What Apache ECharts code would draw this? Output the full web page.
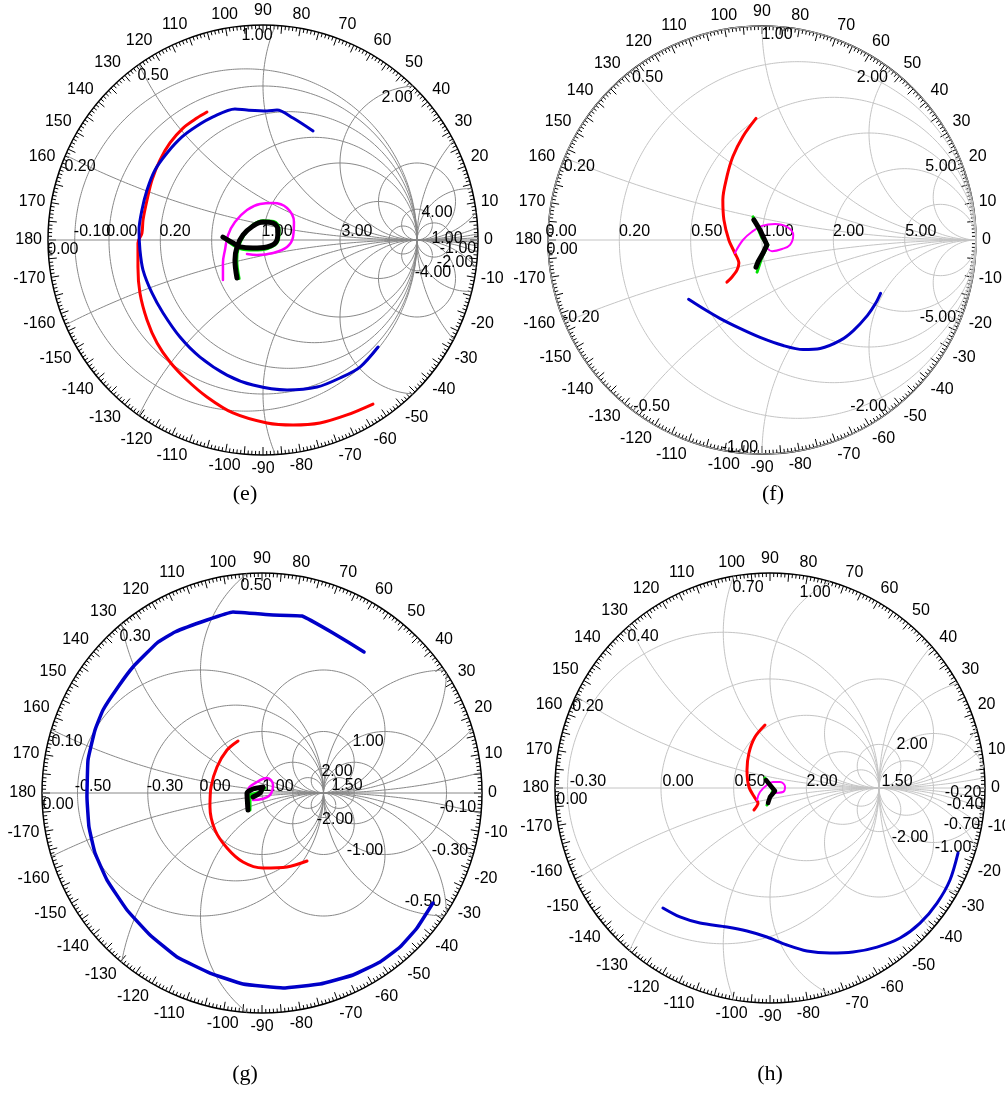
<!DOCTYPE html>
<html>
<head>
<meta charset="utf-8">
<title>Smith charts (e)-(h)</title>
<script src="https://cdn.jsdelivr.net/npm/echarts@6/dist/echarts.min.js"></script>
<style>
  html, body { margin: 0; padding: 0; background: #fff; }
  #chart { width: 1005px; height: 1099px; }
</style>
</head>
<body>
<div id="chart"></div>
<script>
// Smith chart traces, values are reflection coefficient [re, im]

// (e)
const eRed = [[-0.364,0.831],[-0.429,0.792],[-0.519,0.727],[-0.604,0.630],[-0.669,0.519],[-0.721,0.390],[-0.753,0.260],[-0.779,0.130],[-0.786,0.045],[-0.812,-0.019],[-0.812,-0.175],[-0.799,-0.344],[-0.753,-0.519],[-0.688,-0.669],[-0.604,-0.792],[-0.494,-0.909],[-0.364,-1.019],[-0.195,-1.123],[0.026,-1.188],[0.195,-1.201],[0.370,-1.188],[0.545,-1.136],[0.714,-1.065]];
const eBlue = [[0.325,0.708],[0.195,0.792],[0.091,0.844],[0.026,0.838],[-0.104,0.844],[-0.182,0.851],[-0.325,0.799],[-0.429,0.740],[-0.526,0.669],[-0.623,0.565],[-0.701,0.455],[-0.753,0.325],[-0.786,0.195],[-0.805,0.065],[-0.799,-0.065],[-0.779,-0.195],[-0.721,-0.344],[-0.649,-0.474],[-0.539,-0.630],[-0.409,-0.760],[-0.234,-0.877],[-0.065,-0.942],[0.156,-0.974],[0.351,-0.955],[0.500,-0.896],[0.630,-0.825],[0.747,-0.695]];
const eMagenta = [[-0.260,-0.260],[-0.260,-0.149],[-0.247,-0.065],[-0.227,0.032],[-0.182,0.117],[-0.104,0.195],[-0.019,0.234],[0.065,0.240],[0.156,0.208],[0.201,0.117],[0.195,0.019],[0.156,-0.045],[0.065,-0.084],[-0.039,-0.097],[-0.104,-0.091]];
const eBlack = [[-0.260,0.019],[-0.195,-0.019],[-0.149,-0.045],[-0.065,-0.052],[0.026,-0.045],[0.091,0.000],[0.097,0.065],[0.065,0.110],[0.000,0.117],[-0.065,0.091],[-0.130,0.032],[-0.169,-0.045],[-0.182,-0.130],[-0.169,-0.247]];
const eGreen = [[-0.250,0.010],[-0.150,-0.055],[-0.060,-0.065],[0.030,-0.055],[0.100,0.000],[0.105,0.070],[0.070,0.120],[0.000,0.125],[-0.070,0.095],[-0.125,0.030],[-0.160,-0.050],[-0.170,-0.130],[-0.155,-0.250]];

// (f)
const fRed = [[-0.028,0.568],[-0.089,0.484],[-0.136,0.390],[-0.164,0.296],[-0.183,0.188],[-0.178,0.094],[-0.155,0.000],[-0.127,-0.061],[-0.108,-0.108],[-0.117,-0.141],[-0.141,-0.174],[-0.164,-0.197]];
const fBlue = [[-0.343,-0.277],[-0.277,-0.319],[-0.197,-0.366],[-0.103,-0.413],[-0.009,-0.455],[0.099,-0.493],[0.192,-0.512],[0.272,-0.507],[0.366,-0.469],[0.427,-0.423],[0.493,-0.352],[0.531,-0.296],[0.554,-0.249]];
const fMagenta = [[-0.127,-0.061],[-0.089,0.000],[-0.047,0.038],[0.000,0.066],[0.061,0.075],[0.117,0.061],[0.146,0.023],[0.131,-0.023],[0.094,-0.042],[0.047,-0.052],[0.023,-0.038]];
const fBlack = [[-0.038,0.094],[-0.009,0.047],[0.023,-0.023],[0.005,-0.061],[-0.019,-0.103],[-0.028,-0.127]];
const fGreen = [[-0.042,0.108],[0.000,0.009],[0.028,-0.023],[0.000,-0.080],[-0.023,-0.150]];

// (g)
const gRed = [[-0.390,0.846],[-0.569,0.699],[-0.732,0.423],[-0.829,0.098],[-0.846,-0.228],[-0.764,-0.602],[-0.569,-0.894],[-0.309,-1.122],[0.016,-1.220],[0.407,-1.203],[0.732,-1.106]];
const gBlue = [[1.659,2.293],[1.154,2.602],[0.650,2.878],[0.179,2.894],[-0.472,2.943],[-0.894,2.813],[-1.415,2.618],[-1.707,2.439],[-2.098,2.049],[-2.341,1.724],[-2.585,1.350],[-2.715,1.024],[-2.829,0.537],[-2.846,-0.065],[-2.813,-0.553],[-2.715,-0.976],[-2.520,-1.415],[-2.195,-1.902],[-1.821,-2.309],[-1.382,-2.667],[-0.846,-2.927],[-0.309,-3.106],[0.341,-3.171],[0.943,-3.106],[1.480,-2.959],[1.919,-2.748],[2.244,-2.504],[2.520,-2.195],[2.780,-1.789]];
const gMagenta = [[-0.244,-0.228],[-0.228,0.049],[-0.081,0.179],[0.081,0.244],[0.179,0.130],[0.130,-0.033],[0.000,-0.098],[-0.146,-0.114]];
const gBlack = [[-0.228,-0.276],[-0.244,0.000],[-0.146,0.065],[0.016,0.098],[-0.033,0.000],[-0.146,-0.065]];
const gGreen = [[-0.195,-0.276],[-0.195,-0.033],[-0.033,0.016],[0.049,0.081]];

// (h)
const hRed = [[-0.046,0.578],[-0.138,0.468],[-0.193,0.321],[-0.211,0.165],[-0.193,0.009],[-0.138,-0.092],[-0.110,-0.138],[-0.147,-0.202]];
const hBlue = [[-0.982,-1.101],[-0.826,-1.183],[-0.642,-1.239],[-0.394,-1.275],[-0.211,-1.312],[-0.028,-1.367],[0.156,-1.440],[0.339,-1.495],[0.550,-1.514],[0.761,-1.505],[0.982,-1.459],[1.193,-1.376],[1.376,-1.239],[1.532,-1.055],[1.651,-0.844],[1.725,-0.596]];
const hMagenta = [[-0.119,-0.110],[-0.092,-0.037],[-0.028,0.028],[0.028,0.055],[0.092,0.055],[0.138,0.009],[0.119,-0.037],[0.046,-0.046],[0.000,-0.064]];
const hBlack = [[-0.037,0.073],[0.000,0.028],[0.046,-0.028],[0.000,-0.083],[-0.018,-0.138]];
const hGreen = [[-0.046,0.092],[0.028,-0.018],[-0.028,-0.156]];

// grid circles: resistance and reactance values
const eR = [-0.1, 0, 0.2, 0.5, 1, 3, 10, -10, -4, -2];
const eX = [0.2, 0.5, 1, 2, 4, 10, -0.2, -0.5, -1, -2, -4, -10];
const fR = [0, 0.2, 0.5, 1, 2, 5];
const fX = [0.2, 0.5, 1, 2, 5, -0.2, -0.5, -1, -2, -5];
const gR = [-0.5, -0.3, 0, 1, 3, -5, -3, -2, -1.5];
const gX = [0.1, 0.3, 0.5, 1, 2, 5, -0.1, -0.3, -0.5, -1, -2, -5];
const hR = [-0.3, 0, 0.5, 2, 5, -5, -3, -2, -1.5];
const hX = [0.2, 0.4, 0.7, 1, 2, 5, -0.2, -0.4, -0.7, -1, -2, -5];

// grid labels [text, re, im]
const eLabels = [['1.00',-0.039,1.325],['0.50',-0.714,1.065],['0.20',-1.188,0.474],['-0.10',-1.110,0.052],['0.00',-0.916,0.052],['0.20',-0.571,0.052],['1.00',0.091,0.052],['3.00',0.610,0.052],['0.00',-1.299,-0.065],['2.00',0.870,0.922],['4.00',1.130,0.175],['-4.00',1.104,-0.214],['-2.00',1.247,-0.149],['-1.00',1.266,-0.058],['1.00',1.195,0.006]];
const fLabels = [['0.00',-0.939,0.038],['0.00',-0.934,-0.047],['0.20',-0.596,0.038],['0.50',-0.258,0.038],['1.00',0.075,0.038],['2.00',0.404,0.038],['5.00',0.742,0.038],['0.20',-0.854,0.343],['0.50',-0.535,0.761],['1.00',0.070,0.958],['2.00',0.516,0.761],['5.00',0.836,0.343],['-0.20',-0.845,-0.362],['-0.50',-0.516,-0.779],['-1.00',-0.103,-0.972],['-2.00',0.498,-0.779],['-5.00',0.822,-0.362]];
const gLabels = [['0.50',-0.098,3.366],['0.30',-2.065,2.537],['0.10',-3.171,0.829],['-0.50',-2.748,0.098],['-0.30',-1.577,0.098],['0.00',-0.764,0.098],['1.00',0.260,0.098],['0.00',-3.317,-0.195],['2.00',1.220,0.341],['1.50',1.382,0.114],['-2.00',1.187,-0.439],['1.00',1.724,0.829],['-1.00',1.675,-0.943],['-0.10',3.187,-0.244],['-0.30',3.057,-0.943],['-0.50',2.618,-1.772]];
const hLabels = [['0.70',-0.202,1.835],['1.00',0.413,1.789],['0.40',-1.165,1.385],['0.20',-1.670,0.743],['-0.30',-1.670,0.055],['0.00',-0.844,0.055],['0.50',-0.183,0.055],['2.00',0.477,0.055],['1.50',1.165,0.055],['0.00',-1.817,-0.110],['2.00',1.303,0.394],['-2.00',1.284,-0.459],['-0.20',1.771,-0.046],['-0.40',1.789,-0.156],['-0.70',1.761,-0.339],['-1.00',1.679,-0.550]];

const RED = '#ff0000', BLUE = '#0000c8', MAGENTA = '#ff00ff', GREEN = '#00e000', BLACK = '#000000';

// [data, colour, width, smooth]
const panels = [
    { cx: 263, cy: 240, R: 215, gmax: 1.396, gridColor: '#888888', r: eR, x: eX, labels: eLabels, caption: '(e)', capX: 245, capY: 494,
      traces: [[eRed, RED, 3, 0.3], [eBlue, BLUE, 3, 0.3], [eMagenta, MAGENTA, 2.5, 0.4], [eGreen, GREEN, 3, 0.4], [eBlack, BLACK, 5, 0.4]] },
    { cx: 762, cy: 240, R: 214, gmax: 1.0, gridColor: '#c4c4c4', r: fR, x: fX, labels: fLabels, caption: '(f)', capX: 773, capY: 494,
      traces: [[fRed, RED, 3, 0.3], [fBlue, BLUE, 3, 0.3], [fMagenta, MAGENTA, 2, 0.4], [fGreen, GREEN, 3, 0], [fBlack, BLACK, 5, 0]] },
    { cx: 262, cy: 793, R: 220, gmax: 3.577, gridColor: '#888888', r: gR, x: gX, labels: gLabels, caption: '(g)', capX: 245, capY: 1074,
      traces: [[gRed, RED, 3, 0.3], [gBlue, BLUE, 3.5, 0.1], [gMagenta, MAGENTA, 2.5, 0.4], [gGreen, GREEN, 3, 0], [gBlack, BLACK, 5, 0.2]] },
    { cx: 770, cy: 788, R: 215, gmax: 1.972, gridColor: '#c4c4c4', r: hR, x: hX, labels: hLabels, caption: '(h)', capX: 770, capY: 1074,
      traces: [[hRed, RED, 3, 0.3], [hBlue, BLUE, 3, 0.3], [hMagenta, MAGENTA, 2, 0.4], [hGreen, GREEN, 3, 0], [hBlack, BLACK, 4.5, 0]] }
];

// constant-r and constant-x circles, cut at the edge of the chart
function smithGrid(rVals, xVals, gmax) {
    const out = [];
    const lim = gmax * gmax * 1.0005;
    const addCircle = (cu, cv, rad) => {
        const n = 1440;
        let open = false;
        for (let i = 0; i <= n; i++) {
            const t = i / n * 2 * Math.PI;
            const u = cu + rad * Math.cos(t), v = cv + rad * Math.sin(t);
            if (u * u + v * v <= lim) { out.push([u, v]); open = true; }
            else if (open) { out.push(['-', '-']); open = false; }
        }
        if (open) out.push(['-', '-']);
    };
    rVals.forEach(r => addCircle(r / (r + 1), 0, 1 / Math.abs(r + 1)));
    xVals.forEach(x => addCircle(1, 1 / x, 1 / Math.abs(x)));
    out.push([-gmax, 0], [gmax, 0], ['-', '-']);
    return out;
}

const FONT = '"Liberation Sans", Arial, sans-serif';

const option = {
    backgroundColor: '#fff',
    animation: false,
    polar: [], angleAxis: [], radiusAxis: [],
    grid: [], xAxis: [], yAxis: [],
    series: [],
    graphic: { elements: [] }
};

panels.forEach((p, i) => {
    option.polar.push({ center: [p.cx, p.cy], radius: p.R });
    option.radiusAxis.push({ polarIndex: i, type: 'value', min: 0, max: 1, show: false });
    option.angleAxis.push({
        polarIndex: i,
        type: 'value',
        min: 0, max: 360, interval: 5,
        startAngle: 0,
        clockwise: false,
        axisLine: { lineStyle: { color: '#000', width: 1.5 } },
        axisTick: { inside: true, length: 8, lineStyle: { color: '#000' } },
        minorTick: { show: true, splitNumber: 5, length: 4, lineStyle: { color: '#000' } },
        splitLine: { show: false },
        axisLabel: {
            margin: 6, fontSize: 16, color: '#000', fontFamily: FONT,
            formatter: v => (v % 10 !== 0 || v >= 360) ? '' : String(v > 180 ? v - 360 : v)
        }
    });

    option.grid.push({ left: p.cx - p.R, top: p.cy - p.R, width: 2 * p.R, height: 2 * p.R });
    option.xAxis.push({ gridIndex: i, type: 'value', min: -p.gmax, max: p.gmax, show: false });
    option.yAxis.push({ gridIndex: i, type: 'value', min: -p.gmax, max: p.gmax, show: false });

    option.series.push({
        type: 'line', xAxisIndex: i, yAxisIndex: i, silent: true, z: 1,
        data: smithGrid(p.r, p.x, p.gmax),
        showSymbol: false, connectNulls: false,
        lineStyle: { color: p.gridColor, width: 1 }
    });

    option.series.push({
        type: 'scatter', xAxisIndex: i, yAxisIndex: i, silent: true, z: 2,
        symbolSize: 0,
        itemStyle: { color: '#000', opacity: 1 },
        data: p.labels.map(l => ({ name: l[0], value: [l[1], l[2]] })),
        label: {
            show: true, position: 'inside', formatter: '{b}',
            color: '#000', fontSize: 16, fontFamily: FONT,
            textBorderWidth: 0, opacity: 1
        }
    });

    p.traces.forEach((t, k) => {
        option.series.push({
            type: 'line', xAxisIndex: i, yAxisIndex: i, silent: true, z: 3 + k,
            data: t[0], showSymbol: false, smooth: t[3],
            lineStyle: { color: t[1], width: t[2], cap: 'round', join: 'round' }
        });
    });

    option.graphic.elements.push({
        type: 'text', x: p.capX, y: p.capY,
        style: { text: p.caption, font: '22px "Liberation Serif", "Times New Roman", serif', fill: '#000',
                 textAlign: 'center', textVerticalAlign: 'middle', align: 'center', verticalAlign: 'middle' }
    });
});

const chart = echarts.init(document.getElementById('chart'));
chart.setOption(option);
window.addEventListener('resize', () => chart.resize());
</script>
</body>
</html>
